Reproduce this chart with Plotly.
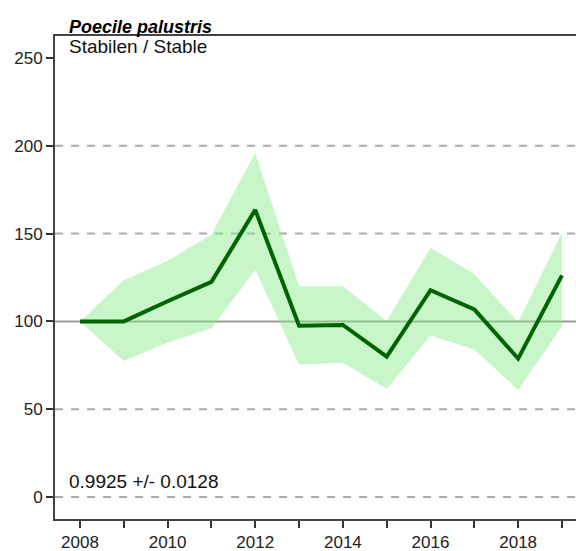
import plotly.graph_objects as go

years = [2008, 2009, 2010, 2011, 2012, 2013, 2014, 2015, 2016, 2017, 2018, 2019]
index_vals = [100, 100, 111.5, 122.5, 163.5, 97.5, 98, 80, 117.8, 106.8, 78.8, 126.2]
upper_vals = [100, 123.5, 134.5, 149.5, 196, 120, 120, 100.2, 142, 126.8, 99.6, 150.5]
lower_vals = [100, 77.5, 88, 96, 129.6, 75.5, 76.5, 61.5, 92, 84, 61, 97.3]

title_text = "Poecile palustris"
trend_text = "Stabilen / Stable"
slope_text = "0.9925 +/- 0.0128"
y_ticks = [0, 50, 100, 150, 200, 250]
grid_vals = [0, 50, 150, 200]
ref_val = 100
x_ticks = years
x_labels = [str(y) if y % 2 == 0 else "" for y in years]

FONT = "Arial, Liberation Sans, sans-serif"

fig = go.Figure()
# gridlines (dashed) and reference line at 100
for v in grid_vals:
    fig.add_hline(y=v, line=dict(color="#a8a8a8", width=2, dash="8px,8px"), layer="below")
fig.add_hline(y=ref_val, line=dict(color="#9a9a9a", width=2), layer="below")

# confidence band (semi-transparent so the lines beneath show through)
fig.add_trace(go.Scatter(x=years, y=upper_vals, mode="lines", line=dict(width=0, color="rgba(0,0,0,0)"),
                         hoverinfo="skip", showlegend=False))
fig.add_trace(go.Scatter(x=years, y=lower_vals, mode="lines", line=dict(width=0, color="rgba(0,0,0,0)"),
                         fill="tonexty", fillcolor="rgba(140,236,140,0.48)", hoverinfo="skip", showlegend=False))

fig.add_trace(go.Scatter(x=years, y=index_vals, mode="lines", line=dict(color="#006400", width=4),
                         showlegend=False))

fig.update_layout(
    width=576, height=551,
    margin=dict(l=55, r=0, t=36, b=32),
    paper_bgcolor="white", plot_bgcolor="white",
    font=dict(family=FONT, size=18, color="#222"),
    showlegend=False,
)
fig.update_xaxes(range=[2007.43, 2019.32], tickvals=x_ticks, ticktext=x_labels,
                 ticks="outside", ticklen=7, tickwidth=2, tickcolor="#333",
                 showline=True, linecolor="#444", linewidth=2, mirror=True,
                 showgrid=False, zeroline=False, tickfont=dict(size=17, family=FONT, color="#222"))
fig.update_yaxes(range=[-12.5, 262.5], tickvals=y_ticks,
                 ticks="outside", ticklen=7, tickwidth=2, tickcolor="#333",
                 showline=True, linecolor="#444", linewidth=2,
                 showgrid=False, zeroline=False, tickfont=dict(size=17, family=FONT, color="#222"))

fig.add_annotation(text="<b><i>" + title_text + "</i></b>", xref="paper", yref="paper",
                   x=0.023, y=1.0, xanchor="left", yanchor="bottom", showarrow=False,
                   font=dict(size=18, family=FONT, color="black"), yshift=-3)
fig.add_annotation(text=trend_text, xref="paper", yref="paper",
                   x=0.023, y=1.0, xanchor="left", yanchor="top", showarrow=False,
                   font=dict(size=19, family=FONT, color="#111"), yshift=2)
fig.add_annotation(text=slope_text, xref="paper", yref="y",
                   x=0.023, y=0, xanchor="left", yanchor="bottom", showarrow=False,
                   font=dict(size=19, family=FONT, color="#111"), yshift=3)

fig.write_html("out.html", config={"displayModeBar": False},
               post_script="document.body.style.margin='0';document.body.style.overflow='hidden';")
